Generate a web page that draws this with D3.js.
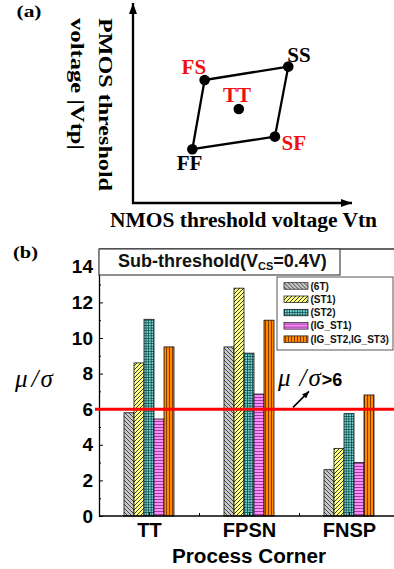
<!DOCTYPE html>
<html>
<head>
<meta charset="utf-8">
<script src="https://cdn.jsdelivr.net/npm/d3@7"></script>
<style>
  html, body { margin: 0; padding: 0; background: #fff; }
  svg { display: block; }
</style>
</head>
<body>
<div id="chart"></div>
<script>
// (a) process corners on the Vtn / |Vtp| plane, arbitrary units 0-100
const cornerNames = ['FF', 'FS', 'SS', 'SF'];
const cornerVtn = [27.1, 32.7, 70.9, 64.8];
const cornerVtp = [26.9, 61.5, 68.2, 33.2];
const typicalName = 'TT';
const typicalVtn = 48.3;
const typicalVtp = 47;

// (b) mu/sigma per process corner and cell type
const corners = ['TT', 'FPSN', 'FNSP'];
const cells = ['(6T)', '(ST1)', '(ST2)', '(IG_ST1)', '(IG_ST2,IG_ST3)'];
const ratio6T = [5.8, 9.5, 2.6];
const ratioST1 = [8.6, 12.8, 3.8];
const ratioST2 = [11.05, 9.15, 5.75];
const ratioIGST1 = [5.45, 6.85, 3.0];
const ratioIGST23 = [9.5, 11.0, 6.8];
const yTicks = [0, 2, 4, 6, 8, 10, 12, 14];
const yMinorTicks = [1, 3, 5, 7, 9, 11, 13];
const threshold = 6;

const W = 394, H = 569;
const serif = "'Liberation Serif', 'Times New Roman', serif";
const sans = "'Liberation Sans', Arial, sans-serif";

const svg = d3.select('#chart').append('svg').attr('width', W).attr('height', H);
const defs = svg.append('defs');

function addMarker(id, w, h) {
  defs.append('marker')
    .attr('id', id)
    .attr('viewBox', `0 0 ${w} ${h}`)
    .attr('refX', w).attr('refY', h / 2)
    .attr('markerWidth', w).attr('markerHeight', h)
    .attr('markerUnits', 'userSpaceOnUse')
    .attr('orient', 'auto-start-reverse')
    .append('path')
    .attr('d', `M0,0L${w},${h / 2}L0,${h}Z`)
    .attr('fill', '#000');
}
addMarker('axisArrow', 11, 8);
addMarker('noteArrow', 7, 6);

function addPattern(id, size, bg, stroke, sw, d) {
  const p = defs.append('pattern')
    .attr('id', id)
    .attr('patternUnits', 'userSpaceOnUse')
    .attr('width', size).attr('height', size);
  p.append('rect').attr('width', size).attr('height', size).attr('fill', bg);
  p.append('path').attr('d', d).attr('stroke', stroke).attr('stroke-width', sw).attr('fill', 'none');
}
addPattern('p6T', 4, '#c8c8c8', '#3a3a3a', 0.9, 'M0,0L4,4M-1,3L1,5M3,-1L5,1');
addPattern('pST1', 4, '#ffff80', '#222', 0.9, 'M0,4L4,0M-1,1L1,-1M3,5L5,3');
addPattern('pST2', 2.6, '#7ad6d6', '#0b4848', 0.8, 'M0,0.4H2.6M0.4,0V2.6');
addPattern('pIG1', 3, '#ff88ff', '#8a3a8a', 0.9, 'M0,1.5H3');
addPattern('pIG23', 3, '#ff8800', '#7a3300', 0.9, 'M1.5,0V3');
const fills = ['url(#p6T)', 'url(#pST1)', 'url(#pST2)', 'url(#pIG1)', 'url(#pIG23)'];

// ---------- panel (a) ----------
const xa = d3.scaleLinear().domain([0, 100]).range([133, 352]);
const ya = d3.scaleLinear().domain([0, 100]).range([203, 3]);
const ga = svg.append('g');

ga.append('path')
  .attr('d', `M${xa(0)},${ya(100)}L${xa(0)},${ya(0)}L${xa(100)},${ya(0)}`)
  .attr('fill', 'none')
  .attr('stroke', '#000')
  .attr('stroke-width', 2.3)
  .attr('marker-start', 'url(#axisArrow)')
  .attr('marker-end', 'url(#axisArrow)');

const pts = cornerNames.map((n, i) => ({ name: n, vtn: cornerVtn[i], vtp: cornerVtp[i] }));
ga.append('path')
  .datum(pts)
  .attr('d', (d) => d3.line().x((p) => xa(p.vtn)).y((p) => ya(p.vtp))(d) + 'Z')
  .attr('fill', 'none')
  .attr('stroke', '#000')
  .attr('stroke-width', 2.3)
  .attr('stroke-linejoin', 'round');

const allPts = [...pts, { name: typicalName, vtn: typicalVtn, vtp: typicalVtp }];
ga.selectAll('.corner-dot')
  .data(allPts)
  .enter()
  .append('circle')
  .attr('cx', (d) => xa(d.vtn))
  .attr('cy', (d) => ya(d.vtp))
  .attr('r', 5.3)
  .attr('fill', '#000');

// label offsets (px) from each dot
const labelPos = {
  FF: { dx: -15.6, dy: 21, color: '#000' },
  FS: { dx: -23, dy: -6, color: '#ee1111' },
  SS: { dx: -1, dy: -5, color: '#000' },
  SF: { dx: 6.7, dy: 13.5, color: '#ee1111' },
  TT: { dx: -15.7, dy: -7.3, color: '#ee1111' },
};
ga.selectAll('.corner-label')
  .data(allPts)
  .enter()
  .append('text')
  .attr('x', (d) => xa(d.vtn) + labelPos[d.name].dx)
  .attr('y', (d) => ya(d.vtp) + labelPos[d.name].dy)
  .attr('font-family', serif)
  .attr('font-weight', 'bold')
  .attr('font-size', 21)
  .attr('fill', (d) => labelPos[d.name].color)
  .text((d) => d.name);

ga.append('text')
  .attr('x', 110).attr('y', 227)
  .attr('font-family', serif).attr('font-weight', 'bold').attr('font-size', 20)
  .attr('textLength', 267).attr('lengthAdjust', 'spacingAndGlyphs')
  .text('NMOS threshold voltage Vtn');

[['PMOS threshold', 98.5, 173], ['voltage |Vtp|', 70.5, 132]].forEach(([t, bx, len]) => {
  ga.append('text')
    .attr('transform', `translate(${bx},18) rotate(90)`)
    .attr('font-family', serif).attr('font-weight', 'bold').attr('font-size', 19)
    .attr('textLength', len).attr('lengthAdjust', 'spacingAndGlyphs')
    .text(t);
});

svg.append('text')
  .attr('x', 16.5).attr('y', 17)
  .attr('font-family', serif).attr('font-weight', 'bold').attr('font-size', 17)
  .attr('textLength', 25).attr('lengthAdjust', 'spacingAndGlyphs')
  .text('(a)');

// ---------- panel (b) ----------
svg.append('text')
  .attr('x', 13).attr('y', 258)
  .attr('font-family', serif).attr('font-weight', 'bold').attr('font-size', 17)
  .attr('textLength', 25).attr('lengthAdjust', 'spacingAndGlyphs')
  .text('(b)');

const x = d3.scaleLinear().domain([0.5, 3.5]).range([99, 399]);
const y = d3.scaleLinear().domain([0, 15]).range([516, 249]);
const inner = d3.scaleBand().domain(cells).range([-25, 25]);
const series = [ratio6T, ratioST1, ratioST2, ratioIGST1, ratioIGST23];

const gb = svg.append('g');

series.forEach((vals, si) => {
  gb.selectAll(`.bar-${si}`)
    .data(vals)
    .enter()
    .append('rect')
    .attr('x', (d, ci) => x(ci + 1) + inner(cells[si]))
    .attr('y', (d) => y(d))
    .attr('width', inner.bandwidth())
    .attr('height', (d) => y(0) - y(d))
    .attr('fill', fills[si])
    .attr('stroke', '#111')
    .attr('stroke-width', 0.8);
});

// axes
const styleAxis = (sel) => {
  sel.select('.domain').attr('stroke', '#000').attr('stroke-width', 1.3);
  sel.selectAll('.tick line').attr('stroke', '#000').attr('stroke-width', 1);
  sel.selectAll('text')
    .attr('fill', '#000')
    .attr('font-family', sans)
    .attr('font-weight', 'bold');
};

gb.append('g')
  .attr('transform', `translate(${x(0.5)},0)`)
  .call(d3.axisLeft(y).tickValues(yTicks).tickSizeInner(-4).tickSizeOuter(0).tickPadding(6))
  .call(styleAxis)
  .call((sel) => sel.selectAll('text').attr('font-size', 19));

gb.append('g')
  .attr('transform', `translate(${x(0.5)},0)`)
  .call(d3.axisLeft(y).tickValues(yMinorTicks).tickSize(-2).tickFormat(''))
  .call((sel) => {
    sel.select('.domain').remove();
    sel.selectAll('.tick line').attr('stroke', '#000');
  });

gb.append('g')
  .attr('transform', `translate(0,${y(0)})`)
  .call(d3.axisBottom(x).tickValues([1, 2, 3]).tickFormat((d) => corners[d - 1])
    .tickSizeInner(-4).tickSizeOuter(0).tickPadding(7))
  .call(styleAxis)
  .call((sel) => {
    sel.select('.domain').attr('d', `M${x(0.5)},0H${W}`);
    sel.selectAll('text').attr('font-size', 20);
  });

gb.append('g')
  .attr('transform', `translate(0,${y(0)})`)
  .call(d3.axisBottom(x).tickValues([1.5, 2.5]).tickSize(-3).tickFormat(''))
  .call((sel) => {
    sel.select('.domain').remove();
    sel.selectAll('.tick line').attr('stroke', '#000');
  });

// top frame line
gb.append('line')
  .attr('x1', x(0.5)).attr('x2', W)
  .attr('y1', y(15)).attr('y2', y(15))
  .attr('stroke', '#333').attr('stroke-width', 1.3);

// title box
gb.append('rect')
  .attr('x', x(0.5)).attr('y', y(15))
  .attr('width', 241).attr('height', 26)
  .attr('fill', '#fff').attr('stroke', '#444').attr('stroke-width', 1.2);
const title = gb.append('text')
  .attr('x', 118).attr('y', 266.7)
  .attr('font-family', sans).attr('font-weight', 'bold').attr('font-size', 18)
  .attr('fill', '#111');
title.append('tspan').text('Sub-threshold(V');
title.append('tspan').attr('font-size', 11).attr('dy', 3.3).text('CS');
title.append('tspan').attr('dy', -3.3).text('=0.4V)');

// legend
const legend = gb.append('g').attr('transform', 'translate(277,277)');
legend.append('rect')
  .attr('width', 116).attr('height', 73)
  .attr('fill', '#fff').attr('stroke', '#555').attr('stroke-width', 1);
cells.forEach((c, i) => {
  const row = legend.append('g').attr('transform', `translate(7,${5.7 + i * 13.3})`);
  row.append('rect')
    .attr('width', 24).attr('height', 6.5)
    .attr('fill', fills[i]).attr('stroke', '#111').attr('stroke-width', 0.7);
  row.append('text')
    .attr('x', 26.5).attr('y', 6.8)
    .attr('font-family', sans).attr('font-weight', 'bold').attr('font-size', 10)
    .attr('fill', '#111')
    .text(c);
});

// threshold line
gb.append('line')
  .attr('x1', x(0.5) - 4).attr('x2', W)
  .attr('y1', y(threshold)).attr('y2', y(threshold))
  .attr('stroke', '#ff0000').attr('stroke-width', 3);

// mu/sigma text helper: italic greek with a gap before and after the slash
function muSigma(sel, gapBefore, gapAfter) {
  sel.append('tspan').text('\u03bc');
  sel.append('tspan').attr('dx', gapBefore).text('/');
  sel.append('tspan').attr('dx', gapAfter).text('\u03c3');
  return sel;
}

// annotation
gb.append('line')
  .attr('x1', x(2.44)).attr('y1', y(threshold + 0.1))
  .attr('x2', x(2.6)).attr('y2', y(threshold + 1.0))
  .attr('stroke', '#000').attr('stroke-width', 1.6)
  .attr('marker-end', 'url(#noteArrow)');
const note = gb.append('text')
  .attr('x', x(2.29)).attr('y', y(7.3))
  .attr('font-family', serif).attr('font-style', 'italic').attr('font-size', 25);
muSigma(note, 9, 2);
note.append('tspan')
  .attr('dx', 1)
  .attr('font-family', sans).attr('font-style', 'normal').attr('font-weight', 'bold').attr('font-size', 18)
  .text('>6');

// y label
muSigma(gb.append('text')
  .attr('x', 15).attr('y', 387)
  .attr('font-family', serif).attr('font-style', 'italic').attr('font-size', 25), 4, 2);

// x label
gb.append('text')
  .attr('x', x(2)).attr('y', 562.5)
  .attr('text-anchor', 'middle')
  .attr('font-family', sans).attr('font-weight', 'bold').attr('font-size', 20)
  .attr('textLength', 154).attr('lengthAdjust', 'spacingAndGlyphs')
  .text('Process Corner');
</script>
</body>
</html>
